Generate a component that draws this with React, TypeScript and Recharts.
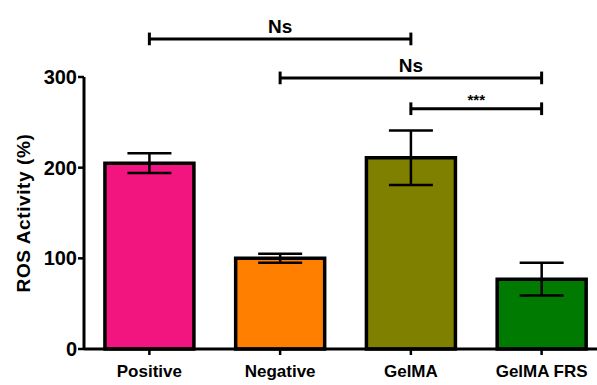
import React from "react";
import {
  BarChart,
  Bar,
  Cell,
  ErrorBar,
  XAxis,
  YAxis,
  ReferenceLine,
} from "recharts";

// values
const groups = ["Positive", "Negative", "GelMA", "GelMA FRS"];
const means = [205, 100, 211, 77];
const sems = [11, 5, 30, 18];
const barColors = ["#F2157F", "#FF8000", "#808000", "#007A00"];
const yTicks = [0, 100, 200, 300];

// significance brackets: [from, to, level, label]
const brackets: [string, string, number, string][] = [
  ["Positive", "GelMA", 342, "Ns"],
  ["Negative", "GelMA FRS", 299, "Ns"],
  ["GelMA", "GelMA FRS", 265, "***"],
];

const data = groups.map((g, i) => ({ name: g, value: means[i], err: sems[i] }));

const font = "Arial, 'Liberation Sans', sans-serif";

const App = () => {
  return (
    <div
      style={{
        position: "fixed",
        left: 0,
        top: 0,
        width: 597,
        height: 385,
        overflow: "hidden",
        background: "#fff",
      }}
    >
      <BarChart
        width={620}
        height={385}
        data={data}
        barCategoryGap="16%"
        margin={{ top: 77, right: 13, left: 0, bottom: 6 }}
      >
        <XAxis
          dataKey="name"
          height={30}
          axisLine={{ stroke: "#000", strokeWidth: 3 }}
          tickLine={{ stroke: "#000", strokeWidth: 2.5 }}
          tickSize={6}
          tickMargin={10}
          tick={{ fill: "#000", fontSize: 17, fontWeight: "bold", fontFamily: font }}
          interval={0}
        />
        <YAxis
          domain={[0, 300]}
          ticks={yTicks}
          width={84}
          axisLine={{ stroke: "#000", strokeWidth: 3 }}
          tickLine={{ stroke: "#000", strokeWidth: 2.5 }}
          tickSize={6}
          tickMargin={1}
          tick={{ fill: "#000", fontSize: 20, fontWeight: "bold", fontFamily: font }}
          label={{
            value: "ROS Activity (%)",
            angle: -90,
            position: "insideLeft",
            offset: 23,
            style: {
              textAnchor: "middle",
              fill: "#000",
              fontSize: 19,
              fontWeight: "bold",
              fontFamily: font,
              letterSpacing: 0.6,
            },
          }}
        />
        <Bar
          dataKey="value"
          stroke="#000"
          strokeWidth={3.5}
          isAnimationActive={false}
        >
          {data.map((d, i) => (
            <Cell key={d.name} fill={barColors[i]} />
          ))}
          <ErrorBar
            dataKey="err"
            width={22}
            stroke="#000"
            strokeWidth={2.5}
            isAnimationActive={false}
          />
        </Bar>
        {brackets.map(([a, b, y, txt]) => (
          <ReferenceLine
            key={a + b}
            ifOverflow="visible"
            stroke="#000"
            strokeWidth={3}
            segment={[
              { x: a, y },
              { x: b, y },
            ]}
            label={{
              value: txt,
              position: "top",
              offset: txt === "Ns" ? 6 : 4,
              fill: "#000",
              fontSize: txt === "Ns" ? 19 : 15,
              fontWeight: "bold",
              fontFamily: font,
            }}
          />
        ))}
        {brackets.flatMap(([a, b, y]) =>
          [a, b].map((x) => (
            <ReferenceLine
              key={a + b + x}
              ifOverflow="visible"
              stroke="#000"
              strokeWidth={3}
              segment={[
                { x, y: y - 7 },
                { x, y: y + 7 },
              ]}
            />
          ))
        )}
      </BarChart>
    </div>
  );
};

export default App;
